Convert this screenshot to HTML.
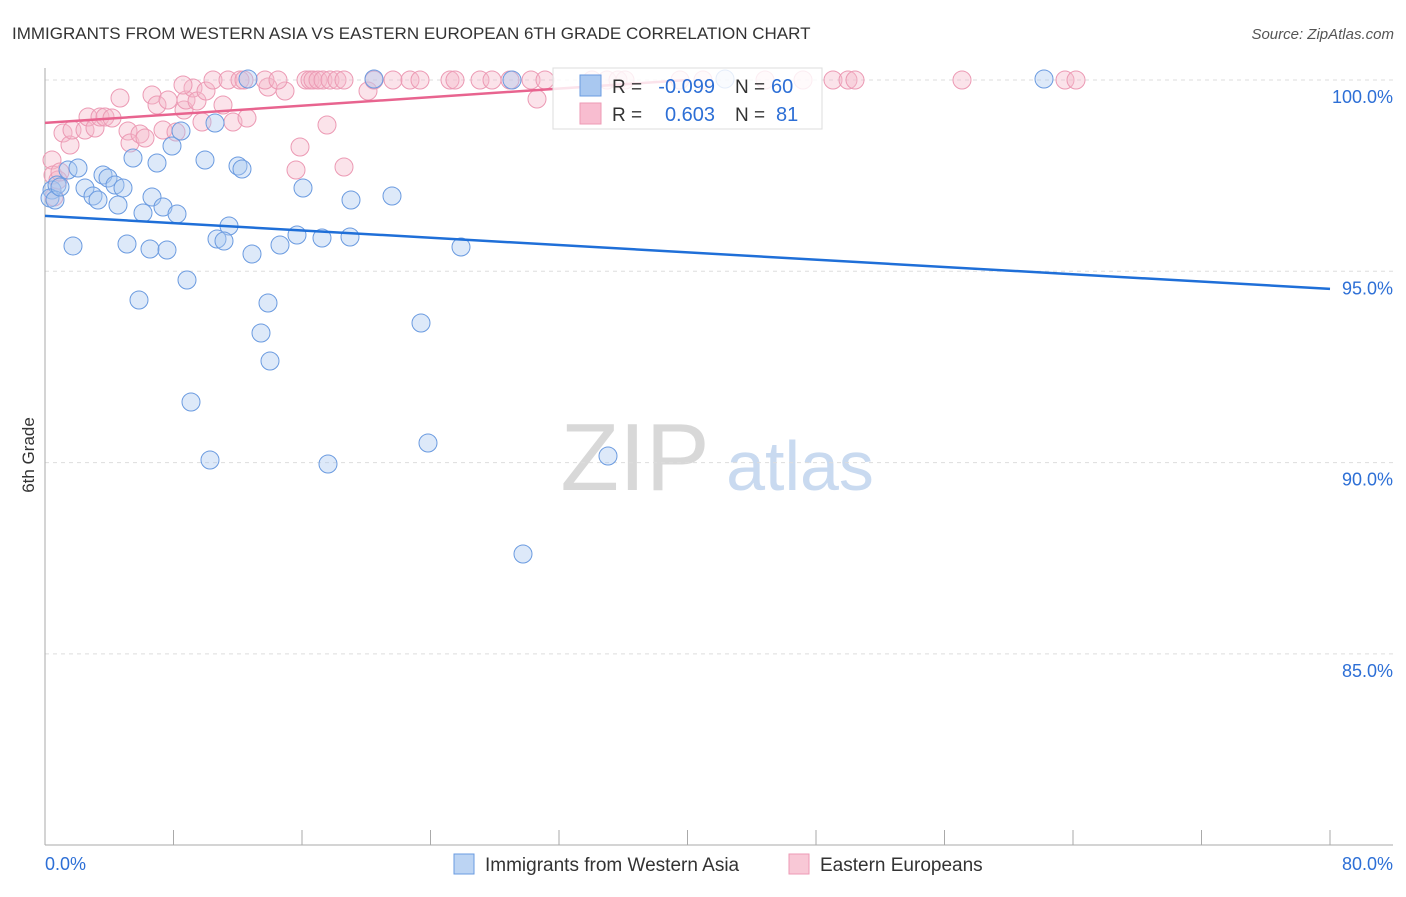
<!DOCTYPE html>
<html><head><meta charset="utf-8"><style>
body{margin:0;background:#fff;font-family:"Liberation Sans",sans-serif;}
svg text{font-family:"Liberation Sans",sans-serif;}
</style></head><body>
<svg id="c" width="1406" height="892">
<text x="12" y="39" font-size="17" fill="#333">IMMIGRANTS FROM WESTERN ASIA VS EASTERN EUROPEAN 6TH GRADE CORRELATION CHART</text>
<text x="1394" y="39" font-size="15" fill="#555" font-style="italic" text-anchor="end">Source: ZipAtlas.com</text>
<text x="635" y="490" font-size="96" fill="#d8d8d8" font-family="Liberation Serif" text-anchor="middle">ZIP</text>
<text x="800" y="490" font-size="70" fill="#c9daf0" text-anchor="middle">atlas</text>
<text transform="translate(34,455) rotate(-90)" font-size="17" fill="#333" text-anchor="middle">6th Grade</text>
<g id="grid"></g><g id="pts"></g><g id="lines"></g>
<g>
<rect x="553" y="68" width="269" height="61" fill="#fff" fill-opacity="0.82" stroke="#ddd"/>
<rect x="580" y="75" width="21" height="21" fill="#a9c8f0" stroke="#6a9be0"/>
<text x="612" y="93" font-size="19" fill="#333">R =</text>
<text x="715" y="93" font-size="20" fill="#2d6fd6" text-anchor="end">-0.099</text>
<text x="735" y="93" font-size="19" fill="#333">N =</text>
<text x="771" y="93" font-size="20" fill="#2d6fd6">60</text>
<rect x="580" y="103" width="21" height="21" fill="#f8bdd0" stroke="#ee9ab5"/>
<text x="612" y="121" font-size="19" fill="#333">R =</text>
<text x="715" y="121" font-size="20" fill="#2d6fd6" text-anchor="end">0.603</text>
<text x="735" y="121" font-size="19" fill="#333">N =</text>
<text x="776" y="121" font-size="20" fill="#2d6fd6">81</text>
</g>
<g>
<rect x="454" y="854" width="20" height="20" fill="#bcd4f3" stroke="#6a9be0"/>
<text x="485" y="871" font-size="19" fill="#333">Immigrants from Western Asia</text>
<rect x="789" y="854" width="20" height="20" fill="#f8c8d6" stroke="#ee9ab5"/>
<text x="820" y="871" font-size="19" fill="#333">Eastern Europeans</text>
</g>
<text x="45" y="870" font-size="18" fill="#2d6fd6">0.0%</text>
<text x="1393" y="870" font-size="18" fill="#2d6fd6" text-anchor="end">80.0%</text>
</svg>
<script>
const yTicks=[100,95,90,85];
const yTickLabels=["100.0%","95.0%","90.0%","85.0%"];
const xTicks=[0,8,16,24,32,40,48,56,64,72,80];
const bluePx=[52,57,50,55,68,78,85,93,98,103,108,115,123,118,143,152,163,177,133,157,172,181,205,215,238,242,229,217,224,73,127,150,167,252,280,297,322,350,303,351,392,461,139,187,268,261,270,191,210,328,421,428,523,608,374,248,512,725,1044,60];
const bluePy=[190,185,198,200,170,168,188,196,200,175,178,185,188,205,213,197,207,214,158,163,146,131,160,123,166,169,226,239,241,246,244,249,250,254,245,235,238,237,188,200,196,247,300,280,303,333,361,402,460,464,323,443,554,456,79,79,80,79,79,187];
const pinkTopPx=[213,228,240,244,265,278,306,310,313,318,323,330,337,344,374,393,410,420,450,455,480,492,510,531,545,592,607,618,625,680,703,765,803,833,848,855,962,1065,1076];
const pinkPx=[52,53,58,63,70,72,85,88,95,100,105,112,120,128,130,140,145,152,157,168,163,176,184,186,193,197,206,202,223,233,247,268,285,296,300,327,344,368,537,183,54,60];
const pinkPy=[160,175,180,133,145,130,130,117,128,117,117,118,98,131,143,134,138,95,105,100,130,132,110,100,88,101,91,122,105,122,118,87,91,170,147,125,167,91,99,85,197,172];
const toX=p=>(p-45)/16.0625, toY=p=>100-(p-80)/38.26;
const blueX=bluePx.map(toX), blueY=bluePy.map(toY);
const pinkX=pinkPx.map(toX).concat(pinkTopPx.map(toX)), pinkY=pinkPy.map(toY).concat(pinkTopPx.map(()=>100));
const blueTrend=[96.45,94.54];
const pinkTrend=[98.88,101.12];

const X=v=>45+v*16.0625, Y=v=>80+(100-v)*38.26;
const NS="http://www.w3.org/2000/svg";
function mk(t,a,p){const e=document.createElementNS(NS,t);for(const k in a)e.setAttribute(k,a[k]);p.appendChild(e);return e;}
const grid=document.getElementById('grid');
yTicks.forEach((v,i)=>{
 const l=mk('line',{x1:45,x2:1393,y1:Y(v),y2:Y(v),stroke:'#ddd','stroke-dasharray':'4,4'},grid);
 
 
 const t=mk('text',{x:1393,y:Y(v)+23,'font-size':18,fill:'#2d6fd6','text-anchor':'end'},grid);
 t.textContent=yTickLabels[i];
 
 
});
const ax=mk('line',{x1:45,x2:45,y1:68,y2:845,stroke:'#aaa'},grid);


const bx=mk('line',{x1:45,x2:1393,y1:845,y2:845,stroke:'#aaa'},grid);


xTicks.forEach(v=>{const t=mk('line',{x1:X(v),x2:X(v),y1:830,y2:845,stroke:'#aaa'},grid);
 
 });
const pts=document.getElementById('pts');
pinkX.forEach((x,i)=>{const c=mk('circle',{cx:X(x),cy:Y(pinkY[i]),r:9,fill:'#f6b9cb','fill-opacity':0.4,stroke:'#ec9ab4','stroke-width':1},pts);
 
 });
blueX.forEach((x,i)=>{const c=mk('circle',{cx:X(x),cy:Y(blueY[i]),r:9,fill:'#a9c8f0','fill-opacity':0.4,stroke:'#6b9be0','stroke-width':1},pts);
 
 });
const lines=document.getElementById('lines');
const bl=mk('line',{x1:X(0),y1:Y(blueTrend[0]),x2:X(80),y2:Y(blueTrend[1]),stroke:'#1f6fd8','stroke-width':2.5},lines);


const slope=(pinkTrend[1]-pinkTrend[0])/80, xEnd=Math.min(80,(100-pinkTrend[0])/slope);
const pl=mk('line',{x1:X(0),y1:Y(pinkTrend[0]),x2:X(xEnd),y2:Y(pinkTrend[0]+slope*xEnd),stroke:'#e8648f','stroke-width':2.5},lines);


</script>
</body></html>
